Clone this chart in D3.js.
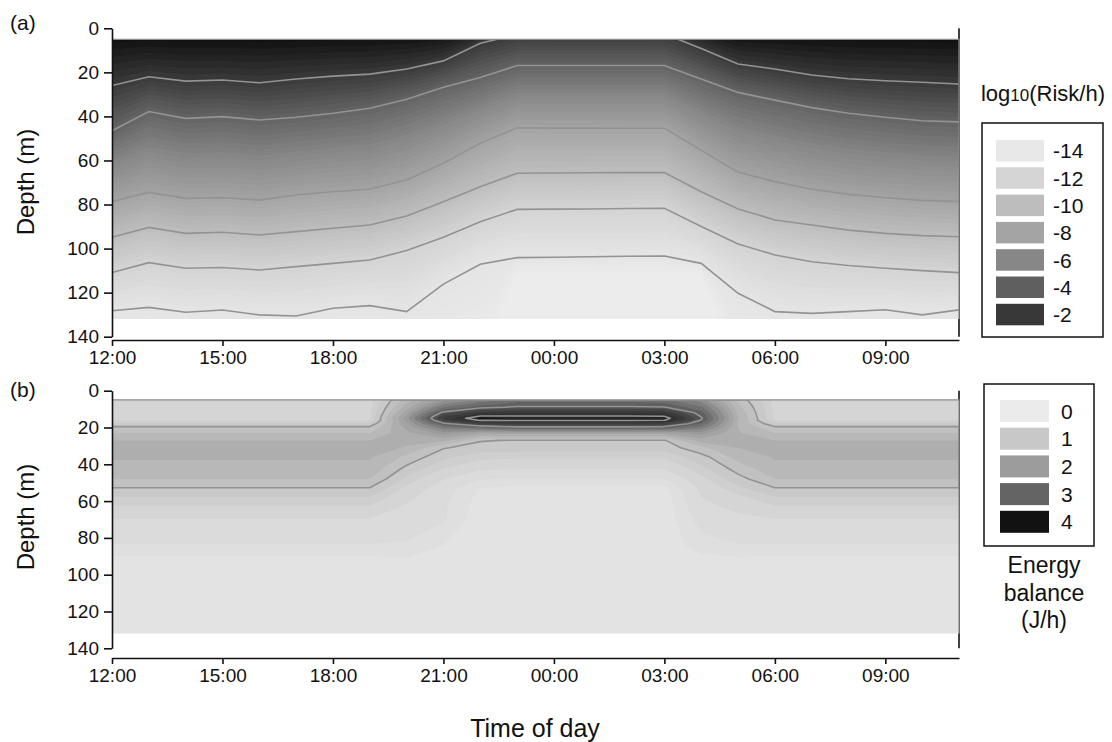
<!DOCTYPE html>
<html>
<head>
<meta charset="utf-8">
<script src="https://cdn.jsdelivr.net/npm/d3@7"></script>
<style>
  body { margin: 0; background: #fff; }
  svg text { font-family: "Liberation Sans", Arial, Helvetica, sans-serif; fill: #111; }
</style>
</head>
<body>
<svg id="chart" width="1112" height="742"></svg>
<script>
// ---- data -------------------------------------------------------------
// hourly samples, counted in hours after 12:00
const hours = [0, 1, 2, 3, 4, 5, 6, 7, 8, 9, 10, 11, 12, 13, 14, 15, 16, 17, 18, 19, 20, 21, 22, 23];
const timeTicks = [0, 3, 6, 9, 12, 15, 18, 21];
const timeTickLabels = ["12:00", "15:00", "18:00", "21:00", "00:00", "03:00", "06:00", "09:00"];
const depthTicks = [0, 20, 40, 60, 80, 100, 120, 140];

// (a) depth (m) of each log10(Risk/h) isoline, per hour
const riskLevels = [0, -2, -4, -6, -8, -10, -12, -14, -16];
const riskDepth0   = [0, 0, 0, 0, 0, 0, 0, 0, 0, 0, -3, -10, -10, -10, -10, -10, -3, 0, 0, 0, 0, 0, 0, 0];
const riskDepth2   = [26.0, 22.0, 24.0, 23.5, 24.7, 23.0, 21.7, 20.8, 18.5, 14.8, 6.8, 2.8, 2.7, 2.7, 2.7, 2.5, 9.2, 16.2, 18.5, 21.2, 22.9, 23.8, 24.5, 25.3];
const riskDepth4   = [46.5, 37.8, 40.9, 40.1, 41.6, 40.4, 38.6, 36.3, 32.2, 26.8, 22.3, 16.9, 16.9, 16.9, 16.9, 16.9, 23.0, 29.1, 32.6, 36.0, 38.6, 40.4, 42.0, 42.5];
const riskDepth6   = [62, 56, 59, 58.5, 60, 58, 56.5, 55, 50.5, 44, 37, 31, 31, 31, 31, 31, 39, 47, 51, 54.5, 57, 58.5, 60, 60.5];
const riskDepth8   = [78.7, 74.5, 77.2, 76.9, 78.0, 75.7, 74.2, 73.1, 68.9, 61.3, 52.2, 45.2, 45.3, 45.3, 45.4, 45.4, 55.4, 65.4, 69.6, 73.1, 75.4, 76.9, 78.1, 78.7];
const riskDepth10  = [94.9, 90.4, 93.1, 92.6, 93.8, 92.3, 90.8, 89.3, 85.2, 78.7, 71.9, 65.8, 65.7, 65.6, 65.5, 65.5, 74.2, 82.0, 87.0, 89.3, 91.6, 93.1, 94.1, 94.6];
const riskDepth12  = [110.9, 106.4, 108.9, 108.6, 109.7, 108.2, 106.7, 105.2, 100.9, 94.9, 87.8, 82.2, 82.1, 82.0, 81.8, 81.7, 90.0, 97.9, 102.9, 106.0, 107.7, 108.9, 110.0, 110.9];
const riskDepth14  = [128.2, 126.7, 128.9, 127.9, 130.1, 130.6, 127.1, 125.9, 128.6, 116.1, 107.1, 104.1, 103.9, 103.7, 103.5, 103.4, 106.7, 120.3, 128.6, 129.4, 128.6, 127.8, 130.1, 127.8];
const riskDepth16  = [160, 160, 160, 160, 160, 160, 160, 160, 160, 160, 160, 112, 112, 112, 112, 112, 112, 160, 160, 160, 160, 160, 160, 160];
const riskLineLevels = [-2, -4, -8, -10, -12, -14];
const riskLegend = ["-14", "-12", "-10", "-8", "-6", "-4", "-2"];

// (b) energy balance (J/h) profiles at these depths (m)
const energyDepths = [5, 9, 12, 14, 15, 16, 18, 20, 23, 27, 31, 36, 42, 48, 53, 58, 63, 70, 84, 92, 132];
const energyDay   = [0.58, 0.6, 0.61, 0.62, 0.63, 0.64, 0.85, 1.05, 1.2, 1.4, 1.5, 1.42, 1.35, 1.2, 0.99, 0.79, 0.64, 0.44, 0.24, 0.05, 0];
const energyH8    = [1.3, 1.5, 1.7, 1.85, 1.92, 1.85, 1.75, 1.65, 1.55, 1.45, 1.38, 1.15, 0.95, 0.75, 0.6, 0.5, 0.42, 0.35, 0.23, 0.08, 0];
const energyH9    = [1.9, 2.5, 3.1, 3.45, 3.55, 3.4, 2.9, 2.4, 1.9, 1.45, 1.02, 0.85, 0.66, 0.46, 0.34, 0.3, 0.28, 0.27, 0.1, 0.03, 0];
const energyH10   = [2.3, 2.9, 3.6, 4.05, 4.3, 4.05, 3.4, 2.7, 1.65, 1.02, 0.9, 0.7, 0.5, 0.26, 0.1, 0.05, 0.02, 0, 0, 0, 0];
const energyNight = [2.6, 3.05, 3.7, 4.05, 4.15, 4.05, 3.5, 2.9, 1.7, 0.98, 0.88, 0.68, 0.48, 0.24, 0.05, 0.02, 0, 0, 0, 0, 0];
const energyH15   = [2.55, 3.02, 3.65, 4.02, 4.18, 4.02, 3.45, 2.85, 1.7, 0.98, 0.88, 0.68, 0.48, 0.24, 0.05, 0.02, 0, 0, 0, 0, 0];
const energyH16   = [2.1, 2.55, 2.85, 2.98, 3.05, 2.98, 2.75, 2.4, 1.9, 1.5, 1.15, 0.92, 0.75, 0.6, 0.5, 0.45, 0.4, 0.32, 0.18, 0.05, 0];
const energyH17   = [1.15, 1.28, 1.36, 1.4, 1.42, 1.4, 1.38, 1.4, 1.42, 1.45, 1.4, 1.28, 1.1, 0.92, 0.75, 0.6, 0.5, 0.4, 0.24, 0.06, 0];
const energyByHour = [
  energyDay, energyDay, energyDay, energyDay, energyDay, energyDay, energyDay, energyDay,
  energyH8, energyH9, energyH10,
  energyNight, energyNight, energyNight, energyNight,
  energyH15, energyH16, energyH17,
  energyDay, energyDay, energyDay, energyDay, energyDay, energyDay
];
const energyLineLevels = [1, 3, 4];
const energyLegend = ["0", "1", "2", "3", "4"];

// ---- styles -----------------------------------------------------------
const riskLegendColors = ["#e8e8e8", "#d5d5d5", "#bdbdbd", "#a4a4a4", "#878787", "#5f5f5f", "#383838"];
const energyLegendColors = ["#ebebeb", "#c8c8c8", "#9c9c9c", "#646464", "#121212"];
const lineColor = "#939393";
const grayA = d3.scaleLinear().domain([-16, -14, -12, -10, -8, -6, -4, -2, 0])
  .range([236, 229, 212, 190, 164, 136, 100, 58, 6]).clamp(true);
const grayB = d3.scaleLinear().domain([0, 0.3, 0.6, 1, 1.3, 1.5, 2, 2.5, 3, 3.5, 4, 4.4])
  .range([228, 220, 211, 198, 184, 174, 150, 118, 88, 62, 45, 12]).clamp(true);
const gray = g => d3.rgb(g, g, g).toString();

// ---- layout -----------------------------------------------------------
const svg = d3.select("#chart");
const x = d3.scaleLinear().domain([0, 23]).range([112, 959]);
const yA = d3.scaleLinear().domain([0, 140]).range([28.3, 336.7]);
const yB = d3.scaleLinear().domain([0, 140]).range([390.7, 648.3]);
const dataTop = 5, dataBottom = 132;

const frameRight = y => svg.append("line")
  .attr("x1", x(23)).attr("x2", x(23)).attr("y1", y(0)).attr("y2", y(140))
  .attr("stroke", "#111").attr("stroke-width", 1.6);

const plotArea = (y, id) => {
  svg.append("clipPath").attr("id", id).append("rect")
    .attr("x", x(0)).attr("y", y(dataTop))
    .attr("width", x(23) - x(0)).attr("height", y(dataBottom) - y(dataTop));
  return svg.append("g").attr("clip-path", `url(#${id})`);
};

const edgeLines = y => {
  svg.append("path")
    .attr("d", `M${x(0)},${y(dataTop)}H${x(23)}V${y(dataBottom)}`)
    .attr("fill", "none").attr("stroke", "#8c8c8c").attr("stroke-width", 1.2);
};

const axes = (y, xAxisY) => {
  const ya = svg.append("g").attr("transform", `translate(${x(0)},0)`)
    .call(d3.axisLeft(y).tickValues(depthTicks).tickSize(8).tickPadding(5).tickSizeOuter(0));
  const xa = svg.append("g").attr("transform", `translate(0,${xAxisY})`)
    .call(d3.axisBottom(x).tickValues(timeTicks).tickFormat((d, i) => timeTickLabels[i])
      .tickSize(6).tickPadding(5).tickSizeOuter(0));
  [ya, xa].forEach(g => {
    g.attr("font-family", null).attr("font-size", 19);
    g.selectAll(".domain, .tick line").attr("stroke", "#111").attr("stroke-width", 1.6);
    g.selectAll(".tick text").attr("fill", "#111");
  });
};

// ---- panel (a) --------------------------------------------------------
const riskDepths = [riskDepth0, riskDepth2, riskDepth4, riskDepth6, riskDepth8, riskDepth10, riskDepth12, riskDepth14, riskDepth16];

// depth where log-risk equals v at hour index i, between the read isolines
function riskDepthAt(i, v) {
  for (let k = 0; k < riskLevels.length - 1; k++) {
    const a = riskLevels[k], b = riskLevels[k + 1];
    if (v <= a && v >= b) {
      const t = (a - v) / (a - b);
      return riskDepths[k][i] + t * (riskDepths[k + 1][i] - riskDepths[k][i]);
    }
  }
  return 200;
}

frameRight(yA);
const gA = plotArea(yA, "clipA");
gA.append("rect").attr("x", x(0)).attr("y", yA(0)).attr("width", x(23) - x(0)).attr("height", yA(140) - yA(0))
  .attr("fill", gray(grayA(0)));

const riskSteps = d3.range(0, -16.001, -0.25);
riskSteps.forEach(v => {
  gA.append("path")
    .attr("fill", gray(grayA(v - 0.125)))
    .attr("d", d3.area()
      .x(h => x(h))
      .y0(yA(170))
      .y1((h, i) => yA(riskDepthAt(i, v)))(hours));
});

riskLineLevels.forEach(v => {
  const k = riskLevels.indexOf(v);
  gA.append("path")
    .attr("fill", "none").attr("stroke", lineColor).attr("stroke-width", 1.6)
    .attr("d", d3.line().x(h => x(h)).y((h, i) => yA(riskDepths[k][i]))(hours));
});
edgeLines(yA);
axes(yA, 340);

// ---- panel (b) --------------------------------------------------------
frameRight(yB);
const gB = plotArea(yB, "clipB");
gB.append("rect").attr("x", x(0)).attr("y", yB(0)).attr("width", x(23) - x(0)).attr("height", yB(140) - yB(0))
  .attr("fill", gray(grayB(0.05)));

const nCols = hours.length, nRows = energyDepths.length;
const grid = new Array(nCols * nRows);
for (let r = 0; r < nRows; r++)
  for (let c = 0; c < nCols; c++) grid[r * nCols + c] = energyByHour[c][r];

// grid index -> depth, piecewise along the read depths
const rowDepth = d3.scaleLinear().domain(d3.range(nRows)).range(energyDepths);
const gridProj = d3.geoTransform({
  point(gx, gy) {
    const h = Math.max(0, Math.min(nCols - 1, gx - 0.5));
    const r = Math.max(0, Math.min(nRows - 1, gy - 0.5));
    this.stream.point(x(h), yB(rowDepth(r)));
  }
});
const gridPath = d3.geoPath(gridProj);

const energySteps = [0.1, 0.25, 0.45, 0.65, 0.8, 1, 1.2, 1.4, 1.6, 1.8, 2, 2.25, 2.5, 2.75, 3, 3.25, 3.5, 3.75, 4, 4.2];
const bands = d3.contours().size([nCols, nRows]).thresholds(energySteps)(grid);
bands.forEach((band, i) => {
  const next = i < energySteps.length - 1 ? energySteps[i + 1] : band.value + 0.2;
  gB.append("path")
    .attr("fill", gray(grayB((band.value + next) / 2)))
    .attr("d", gridPath(band));
});

d3.contours().size([nCols, nRows]).thresholds(energyLineLevels)(grid).forEach(c => {
  gB.append("path")
    .attr("fill", "none").attr("stroke", lineColor).attr("stroke-width", 1.6)
    .attr("stroke-linejoin", "round")
    .attr("d", gridPath(c));
});
edgeLines(yB);
axes(yB, 658);

// ---- titles and legends ----------------------------------------------
svg.append("text").attr("x", 10).attr("y", 30).attr("font-size", 21).text("(a)");
svg.append("text").attr("x", 10).attr("y", 397).attr("font-size", 21).text("(b)");

[182, 517].forEach(cy => {
  svg.append("text")
    .attr("transform", `translate(26,${cy}) rotate(-90)`)
    .attr("text-anchor", "middle").attr("dy", "0.35em").attr("font-size", 24)
    .text("Depth (m)");
});

svg.append("text").attr("x", 535).attr("y", 737).attr("text-anchor", "middle")
  .attr("font-size", 25).text("Time of day");

// legend (a)
const legA = svg.append("g");
const titleA = legA.append("text").attr("x", 1043).attr("y", 101).attr("text-anchor", "middle").attr("font-size", 22);
titleA.append("tspan").text("log");
titleA.append("tspan").attr("font-size", 17).text("10");
titleA.append("tspan").text("(Risk/h)");
legA.append("rect").attr("x", 982).attr("y", 123).attr("width", 121).attr("height", 214)
  .attr("fill", "none").attr("stroke", "#111").attr("stroke-width", 1.5);
riskLegend.forEach((lab, i) => {
  const yy = 140 + i * 27.3;
  legA.append("rect").attr("x", 996).attr("y", yy).attr("width", 48).attr("height", 21.5)
    .attr("fill", riskLegendColors[i]);
  legA.append("text").attr("x", 1053).attr("y", yy + 10.75).attr("dy", "0.36em")
    .attr("font-size", 21).text(lab);
});

// legend (b)
const legB = svg.append("g");
legB.append("rect").attr("x", 984).attr("y", 384).attr("width", 110).attr("height", 162)
  .attr("fill", "none").attr("stroke", "#111").attr("stroke-width", 1.5);
energyLegend.forEach((lab, i) => {
  const yy = 400 + i * 27.7;
  legB.append("rect").attr("x", 1000).attr("y", yy).attr("width", 49).attr("height", 22)
    .attr("fill", energyLegendColors[i]);
  legB.append("text").attr("x", 1061).attr("y", yy + 11).attr("dy", "0.36em")
    .attr("font-size", 21).text(lab);
});
["Energy", "balance", "(J/h)"].forEach((t, i) => {
  legB.append("text").attr("x", 1044).attr("y", 573 + i * 27.5).attr("text-anchor", "middle")
    .attr("font-size", 23).text(t);
});
</script>
</body>
</html>
